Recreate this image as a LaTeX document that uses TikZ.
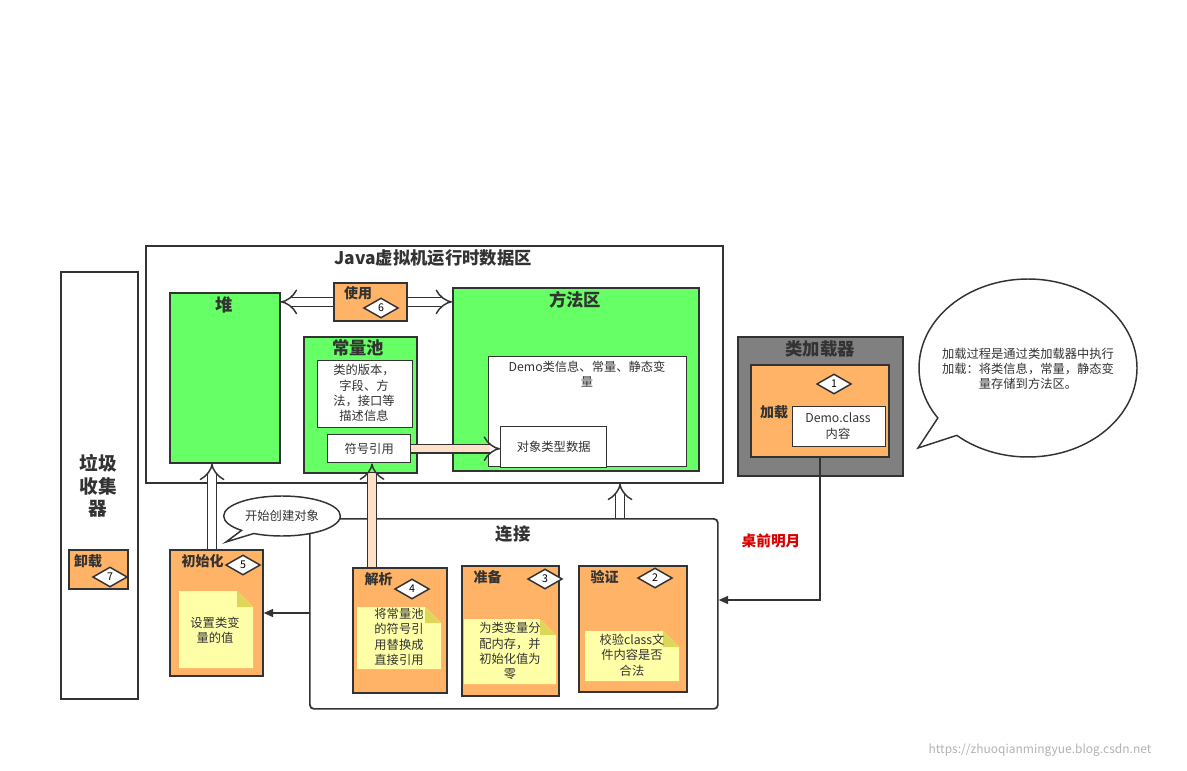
\documentclass[tikz,border=0pt]{standalone}
\usepackage{fontspec}
\setmainfont{Noto Sans CJK SC}
\usetikzlibrary{shapes.geometric,shapes.callouts,arrows.meta,positioning}
\definecolor{gr}{HTML}{66FF66}
\definecolor{og}{HTML}{FFB366}
\definecolor{nt}{HTML}{FFFFA8}
\definecolor{pc}{HTML}{FFE0C8}
\definecolor{ln}{HTML}{333333}
\begin{document}
\begin{tikzpicture}[x=0.75pt,y=-0.75pt,
  box/.style={draw=ln,line width=1.3pt},
  greenbox/.style={box,fill=gr},
  orangebox/.style={box,fill=og},
  white/.style={draw=ln,line width=1.1pt,fill=white},
  ttl/.style={font=\bfseries\fontsize{13}{15}\selectfont,text=ln},
  ttls/.style={font=\bfseries\fontsize{10.5}{12}\selectfont,text=ln},
  txt/.style={font=\fontsize{9.2}{11.5}\selectfont,text=ln,align=center},
  dia/.style={diamond,draw=ln,line width=1.1pt,fill=white,inner sep=0pt,minimum width=26pt,minimum height=15pt,aspect=1.8,font=\fontsize{8}{9}\selectfont},
  hol/.style={double=white,draw=ln,double distance=5.5pt,line width=1.1pt,-{Implies[length=7pt]}},
  holp/.style={hol,double=pc},
]
\useasboundingbox (0,0) rectangle (1187,770);
% JVM area
\node[box,minimum width=577*0.75pt,minimum height=237*0.75pt,anchor=north west,fill=white] (jvm) at (145,245) {};
\node[ttl] (jvmt) at (433,258) {Java虚拟机运行时数据区};
\node[greenbox,minimum width=110*0.75pt,minimum height=170*0.75pt,anchor=north west] (heap) at (169,292) {};
\node[ttl] (heapt) at (224,305) {堆};
\node[orangebox,minimum width=73*0.75pt,minimum height=38*0.75pt,anchor=north west] (use) at (333,282) {};
\node[ttls] at (358,293) {使用};
\node[dia] (d6) at (381,308) {6};
\node[greenbox,minimum width=246*0.75pt,minimum height=183*0.75pt,anchor=north west] (meth) at (452,287) {};
\node[ttl] at (575,300) {方法区};
\node[white,minimum width=198*0.75pt,minimum height=110*0.75pt,anchor=north west] (minfo) at (488,356) {};
\node[txt,anchor=north] at (587,356) {Demo类信息、常量、静态变\\量};
\node[white,minimum width=106*0.75pt,minimum height=41*0.75pt,anchor=north west,txt] (objt) at (500,426) {对象类型数据};
\node[greenbox,minimum width=113*0.75pt,minimum height=136*0.75pt,anchor=north west] (pool) at (303,336) {};
\node[ttl] at (358,348) {常量池};
\node[white,minimum width=95*0.75pt,minimum height=67*0.75pt,anchor=north west] (pinfo) at (317,360) {};
\node[txt,align=center] at (364,393) {类的版本，\\字段、方\\法，接口等\\描述信息};
\node[white,minimum width=83*0.75pt,minimum height=28*0.75pt,anchor=north west,txt] (sym) at (327,434) {符号引用};
\draw[hol] (use.west) -- (heap.east|-use.west);
\draw[hol] (use.east) -- (meth.west|-use.east);
\draw[holp] (sym.east) -- (objt.west|-sym.east);
% GC
\node[box,minimum width=77*0.75pt,minimum height=427*0.75pt,anchor=north west,fill=white] (gc) at (60,271) {};
\node[ttl,align=center,font=\bfseries\fontsize{14}{17}\selectfont] at (98,486) {垃圾\\收集\\器};
\node[orangebox,minimum width=59*0.75pt,minimum height=39*0.75pt,anchor=north west] (unl) at (68,549) {};
\node[ttls] at (88,561) {卸载};
\node[dia] (d7) at (110,577) {7};
% class loader
\node[box,fill=gray,minimum width=165*0.75pt,minimum height=139*0.75pt,anchor=north west,draw=ln] (cl) at (737,336) {};
\node[ttl] at (820,349) {类加载器};
\node[orangebox,minimum width=138*0.75pt,minimum height=92*0.75pt,anchor=north west] (load) at (750,364) {};
\node[dia] (d1) at (834,384) {1};
\node[ttls] at (774,412) {加载};
\node[white,minimum width=93*0.75pt,minimum height=40*0.75pt,anchor=north west] (demo) at (792,406) {};
\node[txt] at (838,426) {Demo.class\\内容};
\node[ellipse callout,draw=ln,line width=1.1pt,fill=white,minimum width=218*0.75pt,minimum height=178*0.75pt,callout absolute pointer={(918,448)}] (bub) at (1028,368) {};
\node[txt] at (1028,369) {加载过程是通过类加载器中执行\\加载：将类信息，常量，静态变\\量存储到方法区。};
% connection
\node[draw=ln,line width=1.3pt,rounded corners=3pt,minimum width=408*0.75pt,minimum height=190*0.75pt,anchor=north west] (conn) at (309,518) {};
\node[ttl] at (513,534) {连接};
\coordinate (cc) at (820,600);
\draw[line width=1.1pt,draw=ln,-{Triangle[length=7pt,width=6pt]}] (load.south-|cc) -- (cc) -- (conn.east|-cc);
\node[text=red!85!black,font=\bfseries\fontsize{11}{13}\selectfont] at (771,541) {桌前明月};
% stages
\newcommand{\stage}[8]{%
 \node[orangebox,minimum width=#4*0.75pt,minimum height=#5*0.75pt,anchor=north west] (#1) at (#2,#3) {};
 \node[ttls,anchor=north west] at (#2+8,#3+1) {#6};
 \node[dia] at (#7) {#8};}
\stage{ini}{169}{549}{93}{126}{初始化}{243,565}{5}
\stage{jx}{352}{567}{94}{125}{解析}{412,589}{4}
\stage{zb}{461}{565}{97}{130}{准备}{545,579}{3}
\stage{yz}{578}{565}{108}{126}{验证}{655,578}{2}
\newcommand{\note}[6]{%
 \fill[nt] (#1,#2) -- (#3-16,#2) -- (#3,#2+16) -- (#3,#4) -- (#1,#4) -- cycle;
 \fill[yellow!50!olive!60] (#3-16,#2) -- (#3-16,#2+16) -- (#3,#2+16) -- cycle;
 \node[txt] at (#5) {#6};}
\note{179}{591}{253}{668}{215,630}{设置类变\\量的值}
\note{357}{607}{441}{669}{399,637}{将常量池\\的符号引\\用替换成\\直接引用}
\note{464}{619}{556}{684}{510,651}{为类变量分\\配内存，并\\初始化值为\\零}
\note{585}{631}{679}{681}{632,655}{校验class文\\件内容是否\\合法}
\coordinate (ca) at (309,613);
\draw[line width=1.1pt,draw=ln,-{Triangle[length=7pt,width=6pt]}] (ca) -- (ini.east|-ca);
\node[ellipse callout,draw=ln,line width=1.1pt,fill=white,minimum width=112*0.75pt,minimum height=40*0.75pt,callout absolute pointer={(226,542)},txt] (bub2) at (282,516) {开始创建对象};
\draw[hol] (212,549) -- (heap.south-|212,0);
\draw[holp] (jx.north-|372,0) -- (sym.south-|372,0);
\draw[hol] (conn.north-|620,0) -- (jvm.south-|620,0);
\node[text=gray!60,font=\fontsize{9}{11}\selectfont] at (1040,750) {https://zhuoqianmingyue.blog.csdn.net};
\end{tikzpicture}
\end{document}
